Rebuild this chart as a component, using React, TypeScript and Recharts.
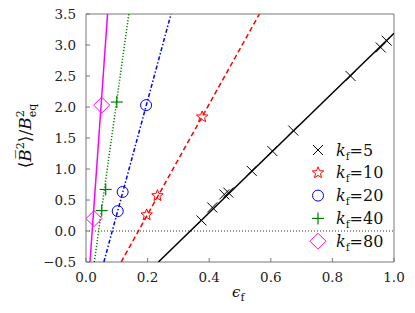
import React from "react";
import { ScatterChart, Scatter, XAxis, YAxis, ReferenceLine } from "recharts";

// measured points (eps_f, <B^2>/Beq^2)
const kf5X = [0.375, 0.41, 0.449, 0.462, 0.538, 0.605, 0.673, 0.859, 0.957, 0.976];
const kf5Y = [0.17, 0.38, 0.59, 0.62, 0.97, 1.29, 1.62, 2.5, 2.96, 3.07];
const kf10X = [0.197, 0.232, 0.377];
const kf10Y = [0.26, 0.57, 1.84];
const kf20X = [0.103, 0.119, 0.195];
const kf20Y = [0.32, 0.63, 2.03];
const kf40X = [0.051, 0.064, 0.1];
const kf40Y = [0.33, 0.67, 2.08];
const kf80X = [0.026, 0.051];
const kf80Y = [0.2, 2.03];

// linear fits, end points
const fit5 = [[0.235, -0.5], [1.0, 3.19]];
const fit10 = [[0.114, -0.5], [0.563, 3.5]];
const fit20 = [[0.058, -0.5], [0.276, 3.5]];
const fit40 = [[0.027, -0.5], [0.139, 3.5]];
const fit80 = [[0.013, -0.5], [0.07, 3.5]];

const kfLabels = ["5", "10", "20", "40", "80"];
const xTicks = [0, 0.2, 0.4, 0.6, 0.8, 1.0];
const yTicks = [-0.5, 0, 0.5, 1.0, 1.5, 2.0, 2.5, 3.0, 3.5];

const toPts = (xs: number[], ys: number[]) => xs.map((x, i) => ({ x, y: ys[i] }));
const toFit = (f: number[][]) => f.map(([x, y]) => ({ x, y }));

const Marker = ({ kind, cx, cy }: any) => {
  if (kind === "x")
    return (
      <g stroke="#000" strokeWidth={1}>
        <line x1={cx - 5} y1={cy - 5} x2={cx + 5} y2={cy + 5} />
        <line x1={cx - 5} y1={cy + 5} x2={cx + 5} y2={cy - 5} />
      </g>
    );
  if (kind === "star") {
    const pts: string[] = [];
    for (let i = 0; i < 10; i++) {
      const r = i % 2 === 0 ? 6 : 2.6;
      const a = -Math.PI / 2 + (i * Math.PI) / 5;
      pts.push(`${cx + r * Math.cos(a)},${cy + r * Math.sin(a)}`);
    }
    return <polygon points={pts.join(" ")} fill="none" stroke="#ff0000" strokeWidth={1} />;
  }
  if (kind === "circle") return <circle cx={cx} cy={cy} r={5.5} fill="none" stroke="#0000ff" strokeWidth={1} />;
  if (kind === "plus")
    return (
      <g stroke="#008000" strokeWidth={1.2}>
        <line x1={cx - 6} y1={cy} x2={cx + 6} y2={cy} />
        <line x1={cx} y1={cy - 6} x2={cx} y2={cy + 6} />
      </g>
    );
  return (
    <polygon
      points={`${cx},${cy - 8} ${cx + 8},${cy} ${cx},${cy + 8} ${cx - 8},${cy}`}
      fill="none"
      stroke="#ff00ff"
      strokeWidth={1}
    />
  );
};

const series = [
  { pts: toPts(kf5X, kf5Y), fit: toFit(fit5), kind: "x", color: "#000", dash: undefined },
  { pts: toPts(kf10X, kf10Y), fit: toFit(fit10), kind: "star", color: "#ff0000", dash: "5 3" },
  { pts: toPts(kf20X, kf20Y), fit: toFit(fit20), kind: "circle", color: "#0000ff", dash: "4 2 1.5 2" },
  { pts: toPts(kf40X, kf40Y), fit: toFit(fit40), kind: "plus", color: "#008000", dash: "1.2 1.8" },
  { pts: toPts(kf80X, kf80Y), fit: toFit(fit80), kind: "diamond", color: "#ff00ff", dash: undefined },
];

const fmt = (v: number) => (v < 0 ? "\u2212" + Math.abs(v).toFixed(1) : v.toFixed(1));
const tickStyle = { fontFamily: "DejaVu Serif", fontSize: 13.5, fill: "#222" };

export default function App() {
  return (
    <div style={{ position: "absolute", left: 0, top: 0, width: 415, height: 313 }}>
      <ScatterChart width={415} height={313} margin={{ top: 0, right: 0, bottom: 0, left: 0 }}>
        <XAxis
          xAxisId="b"
          type="number"
          dataKey="x"
          domain={[0, 1]}
          ticks={xTicks}
          tickFormatter={fmt}
          allowDataOverflow
          height={51}
          stroke="#777"
          tickSize={-4}
          tickMargin={14}
          tick={tickStyle}
        />
        <XAxis
          xAxisId="t"
          orientation="top"
          type="number"
          dataKey="x"
          domain={[0, 1]}
          ticks={xTicks}
          tickFormatter={() => ""}
          height={14}
          stroke="#777"
          tickSize={-4}
        />
        <YAxis
          yAxisId="l"
          type="number"
          dataKey="y"
          domain={[-0.5, 3.5]}
          ticks={yTicks}
          tickFormatter={fmt}
          allowDataOverflow
          width={86}
          stroke="#777"
          tickSize={-4}
          tickMargin={14}
          tick={tickStyle}
        />
        <YAxis
          yAxisId="r"
          orientation="right"
          type="number"
          dataKey="y"
          domain={[-0.5, 3.5]}
          ticks={yTicks}
          tickFormatter={() => ""}
          width={21}
          stroke="#777"
          tickSize={-4}
        />
        <Scatter xAxisId="t" yAxisId="r" data={[]} isAnimationActive={false} />
        <ReferenceLine xAxisId="b" yAxisId="l" y={0} stroke="#333" strokeWidth={1} strokeDasharray="1 2" />
        {series.map((s, i) => (
          <Scatter
            key={"fit" + i}
            xAxisId="b"
            yAxisId="l"
            data={s.fit}
            line={{ stroke: s.color, strokeWidth: 1.5, strokeDasharray: s.dash }}
            shape={() => <g />}
            isAnimationActive={false}
          />
        ))}
        {series.map((s, i) => (
          <Scatter
            key={"pts" + i}
            xAxisId="b"
            yAxisId="l"
            data={s.pts}
            shape={(p: any) => <Marker kind={s.kind} cx={p.cx} cy={p.cy} />}
            isAnimationActive={false}
          />
        ))}
      </ScatterChart>
      <svg width={415} height={313} style={{ position: "absolute", left: 0, top: 0, pointerEvents: "none" }}>
        <text
          transform="translate(31,136) rotate(-90)"
          textAnchor="middle"
          fontFamily="DejaVu Serif"
          fontSize={17}
          fill="#111"
        >
          {"\u27E8"}
          <tspan fontStyle="italic">{"B\u0305"}</tspan>
          <tspan dy={-7} fontSize={11}>2</tspan>
          <tspan dy={7}>{"\u27E9/"}</tspan>
          <tspan fontStyle="italic">B</tspan>
          <tspan dy={-7} fontSize={11}>2</tspan>
          <tspan dx={-7} dy={12} fontSize={11}>eq</tspan>
        </text>
        <text x={232} y={297} fontFamily="DejaVu Serif" fontSize={15} fill="#111">
          <tspan fontStyle="italic">{"\u03F5"}</tspan>
          <tspan dy={4} fontSize={11}>f</tspan>
        </text>
        {series.map((s, i) => (
          <g key={"lg" + i}>
            <Marker kind={s.kind} cx={318} cy={150 + i * 22.8} />
            <text x={336} y={155.5 + i * 22.8} fontFamily="DejaVu Serif" fontSize={16} fill="#111">
              <tspan fontStyle="italic">k</tspan>
              <tspan dy={4} fontSize={10.5}>f</tspan>
              <tspan dy={-4}>{"=" + kfLabels[i]}</tspan>
            </text>
          </g>
        ))}
      </svg>
    </div>
  );
}
